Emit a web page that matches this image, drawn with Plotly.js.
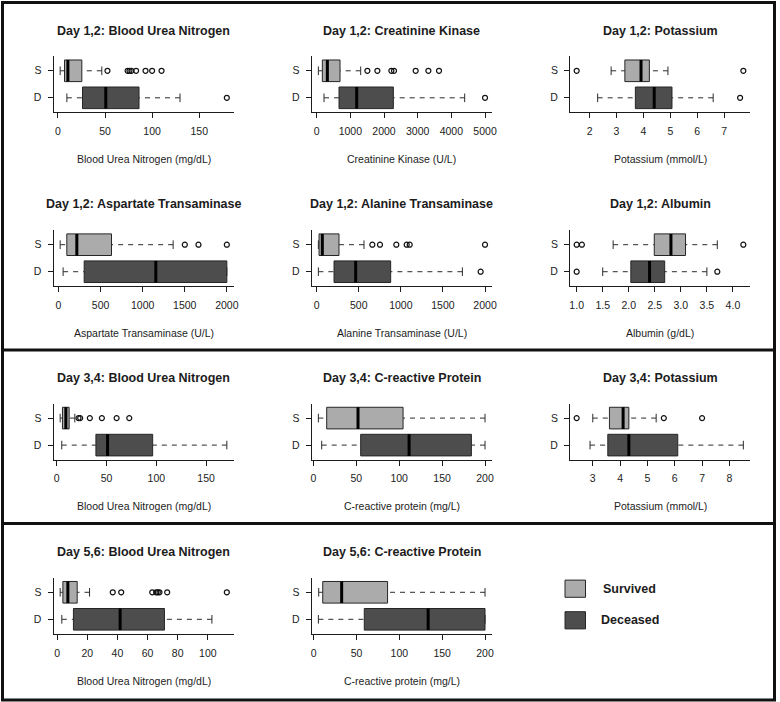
<!DOCTYPE html>
<html>
<head>
<meta charset="utf-8">
<script src="https://cdn.plot.ly/plotly-3.0.1.min.js"></script>
<style>
  html, body { margin: 0; padding: 0; background: #fff; }
  #chart { width: 780px; height: 702px; }
</style>
</head>
<body>
<div id="chart"></div>
<script>
// ---- panel titles and axis labels ----
const panelTitles = [
  'Day 1,2: Blood Urea Nitrogen', 'Day 1,2: Creatinine Kinase', 'Day 1,2: Potassium',
  'Day 1,2: Aspartate Transaminase', 'Day 1,2: Alanine Transaminase', 'Day 1,2: Albumin',
  'Day 3,4: Blood Urea Nitrogen', 'Day 3,4: C-reactive Protein', 'Day 3,4: Potassium',
  'Day 5,6: Blood Urea Nitrogen', 'Day 5,6: C-reactive Protein'
];
const axisTitles = [
  'Blood Urea Nitrogen (mg/dL)', 'Creatinine Kinase (U/L)', 'Potassium (mmol/L)',
  'Aspartate Transaminase (U/L)', 'Alanine Transaminase (U/L)', 'Albumin (g/dL)',
  'Blood Urea Nitrogen (mg/dL)', 'C-reactive protein (mg/L)', 'Potassium (mmol/L)',
  'Blood Urea Nitrogen (mg/dL)', 'C-reactive protein (mg/L)'
];
const xTickValues = [
  [0, 50, 100, 150], [0, 1000, 2000, 3000, 4000, 5000], [2, 3, 4, 5, 6, 7],
  [0, 500, 1000, 1500, 2000], [0, 500, 1000, 1500, 2000], [1.0, 1.5, 2.0, 2.5, 3.0, 3.5, 4.0],
  [0, 50, 100, 150], [0, 50, 100, 150, 200], [3, 4, 5, 6, 7, 8],
  [0, 20, 40, 60, 80, 100], [0, 50, 100, 150, 200]
];
const xTickDecimals = [0, 0, 0, 0, 0, 1, 0, 0, 0, 0, 0];

// ---- groups ----
const groupNames = ['Survived', 'Deceased'];
const groupTickText = ['S', 'D'];

// ---- Survived: whisker low, Q1, median, Q3, whisker high, outliers ----
const survLow  = [2.4, 50, 2.80, 20, 20, 1.70, 3.4, 5.8, 3.00, 2.0, 5.8];
const survQ1   = [7.0, 168, 3.31, 99, 28, 2.49, 5.7, 15.5, 3.61, 3.8, 10.5];
const survMed  = [10.6, 317, 3.91, 218, 67, 2.81, 9.1, 52.0, 4.11, 7.1, 32.6];
const survQ3   = [25.4, 693, 4.22, 630, 265, 3.09, 12.4, 104.5, 4.32, 13.3, 86.2];
const survHigh = [46.6, 1307, 4.91, 1362, 562, 3.70, 18.1, 200, 5.32, 21.5, 200];
const survOut  = [
  [52.6, 74, 76, 78, 83, 93, 100, 110],
  [1505, 1802, 2218, 2297, 2940, 3317, 3633],
  [1.52, 7.71],
  [1501, 1663, 2000],
  [661, 752, 946, 1069, 1105, 2000],
  [1.00, 1.10, 4.20],
  [21.8, 23.5, 33.2, 45.3, 60.1, 72.8],
  [],
  [2.41, 5.60, 7.00],
  [36.9, 42.5, 63.1, 65.7, 66.8, 67.9, 73.0, 112.6],
  []
];

// ---- Deceased ----
const decLow  = [9.5, 218, 2.30, 55, 20, 1.50, 5.0, 9.7, 2.90, 3.1, 5.4];
const decQ1   = [26.1, 663, 3.70, 305, 206, 2.04, 39.3, 55.1, 3.55, 10.8, 59.0];
const decMed  = [50.8, 1188, 4.40, 1156, 463, 2.40, 51.0, 111.5, 4.32, 41.8, 133.6];
const decQ3   = [86.1, 2277, 5.06, 2000, 879, 2.69, 96.3, 184.1, 6.11, 71.2, 200];
const decHigh = [129.6, 4396, 6.59, 2000, 1731, 3.50, 170.8, 200, 8.51, 102.7, 200];
const decOut  = [
  [179.3], [5000], [7.59], [], [1948], [1.00, 3.70], [], [], [], [], []
];

// ---- page geometry (pixels) ----
const W = 780, H = 702;
const colLeft = [53.5, 311.7, 570];
const plotW = 180;
const rowMid = [84.3, 258.2, 431.6, 605.8];
const halfH = 28.1;
const FONT = 'Liberation Sans, Arial, Helvetica, sans-serif';
const INK = '#1c1c1c';
const fills = ['#ababab', '#4d4d4d'];
const positions = [2, 1];
const px = v => v / W;
const py = v => 1 - v / H;

const traces = [];
const annotations = [];
const shapes = [];
const layout = {
  width: W, height: H,
  margin: { l: 0, r: 0, t: 0, b: 0 },
  paper_bgcolor: '#ffffff',
  plot_bgcolor: 'rgba(0,0,0,0)',
  showlegend: false,
  font: { family: FONT, color: INK, size: 10.5 },
  boxmode: 'overlay'
};

panelTitles.forEach((title, i) => {
  const r = Math.floor(i / 3), c = i % 3;
  const k = i === 0 ? '' : String(i + 1);
  const xa = 'x' + k, ya = 'y' + k;
  const x0 = colLeft[c], x1 = x0 + plotW;
  const yTop = rowMid[r] - halfH, yBot = rowMid[r] + halfH;

  const stats = [
    { low: survLow[i], q1: survQ1[i], med: survMed[i], q3: survQ3[i], high: survHigh[i], out: survOut[i] },
    { low: decLow[i], q1: decQ1[i], med: decMed[i], q3: decQ3[i], high: decHigh[i], out: decOut[i] }
  ];

  // axis range: data extent plus 4% on each side
  const all = [];
  stats.forEach(s => all.push(s.low, s.high, ...s.out));
  const lo = Math.min(...all), hi = Math.max(...all), pad = 0.04 * (hi - lo);

  layout['xaxis' + k] = {
    domain: [px(x0), px(x1)], anchor: ya,
    range: [lo - pad, hi + pad],
    tickvals: xTickValues[i],
    ticktext: xTickValues[i].map(v => v.toFixed(xTickDecimals[i])),
    showline: true, linecolor: INK, linewidth: 1,
    ticks: 'outside', ticklen: 5, tickwidth: 1, tickcolor: INK,
    tickfont: { size: 10.5, color: INK, family: FONT },
    ticklabelstandoff: 4,
    showgrid: false, zeroline: false, fixedrange: true
  };
  layout['yaxis' + k] = {
    domain: [py(yBot), py(yTop)], anchor: xa,
    range: [0.46, 2.54],
    tickvals: positions, ticktext: groupTickText,
    showline: true, linecolor: INK, linewidth: 1,
    ticks: 'outside', ticklen: 5, tickwidth: 1, tickcolor: INK,
    tickfont: { size: 10.5, color: INK, family: FONT },
    ticklabelstandoff: 4,
    showgrid: false, zeroline: false, fixedrange: true
  };

  stats.forEach((s, g) => {
    const pos = positions[g];
    // box body (whiskers drawn separately as dashed segments)
    traces.push({
      type: 'box', orientation: 'h', name: groupNames[g],
      y: [pos], q1: [s.q1], median: [s.med], q3: [s.q3],
      lowerfence: [s.q1], upperfence: [s.q3],
      width: 0.8, whiskerwidth: 0, boxpoints: false,
      fillcolor: fills[g], line: { color: '#262626', width: 1 },
      xaxis: xa, yaxis: ya, hoverinfo: 'skip'
    });
    // dashed whiskers, from the whisker end to the hinge
    traces.push({
      type: 'scatter', mode: 'lines',
      x: [s.low, s.q1, null, s.high, s.q3], y: [pos, pos, null, pos, pos],
      line: { color: '#2b2b2b', width: 1, dash: '5px,5px' },
      xaxis: xa, yaxis: ya, hoverinfo: 'skip'
    });
    // staples
    traces.push({
      type: 'scatter', mode: 'lines',
      x: [s.low, s.low, null, s.high, s.high],
      y: [pos - 0.16, pos + 0.16, null, pos - 0.16, pos + 0.16],
      line: { color: '#2b2b2b', width: 1 },
      xaxis: xa, yaxis: ya, hoverinfo: 'skip'
    });
    // heavy median bar
    traces.push({
      type: 'scatter', mode: 'lines',
      x: [s.med, s.med], y: [pos - 0.4, pos + 0.4],
      line: { color: '#000000', width: 3 },
      xaxis: xa, yaxis: ya, hoverinfo: 'skip'
    });
    // outliers
    if (s.out.length) {
      traces.push({
        type: 'scatter', mode: 'markers',
        x: s.out, y: s.out.map(() => pos),
        marker: { symbol: 'circle-open', size: 5, color: '#111', line: { width: 1.2, color: '#111' } },
        xaxis: xa, yaxis: ya, hoverinfo: 'skip', cliponaxis: false
      });
    }
  });

  // panel title
  annotations.push({
    xref: 'paper', yref: 'paper', x: px((x0 + x1) / 2), y: py(yTop - 25.7),
    xanchor: 'center', yanchor: 'middle', showarrow: false,
    text: '<b>' + title + '</b>', font: { family: FONT, size: 12.5, color: INK }
  });
  // x axis title
  annotations.push({
    xref: 'paper', yref: 'paper', x: px((x0 + x1) / 2), y: py(yBot + 46.7),
    xanchor: 'center', yanchor: 'middle', showarrow: false,
    text: axisTitles[i], font: { family: FONT, size: 10.5, color: INK }
  });
});

// legend block in the empty bottom-right cell
const legendRows = [588.7, 620.3];
groupNames.forEach((name, g) => {
  shapes.push({
    type: 'rect', xref: 'paper', yref: 'paper',
    x0: px(565), x1: px(585.5), y0: py(legendRows[g] - 8.6), y1: py(legendRows[g] + 8.6),
    fillcolor: fills[g], line: { color: '#262626', width: 1 }
  });
  annotations.push({
    xref: 'paper', yref: 'paper', x: px(g === 0 ? 600.5 : 599), y: py(legendRows[g]),
    xanchor: 'left', yanchor: 'middle', showarrow: false,
    text: '<b>' + name + '</b>', font: { family: FONT, size: 12.5, color: INK }
  });
});

// section frames
shapes.push({
  type: 'rect', xref: 'paper', yref: 'paper',
  x0: px(2.5), x1: px(774.5), y0: py(700), y1: py(2.5),
  line: { color: '#111', width: 3 }, fillcolor: 'rgba(0,0,0,0)'
});
[350, 523.5].forEach(yy => shapes.push({
  type: 'line', xref: 'paper', yref: 'paper',
  x0: px(2.5), x1: px(774.5), y0: py(yy), y1: py(yy),
  line: { color: '#111', width: 3 }
}));

layout.annotations = annotations;
layout.shapes = shapes;

Plotly.newPlot('chart', traces, layout, { displayModeBar: false, staticPlot: true });
</script>
</body>
</html>
